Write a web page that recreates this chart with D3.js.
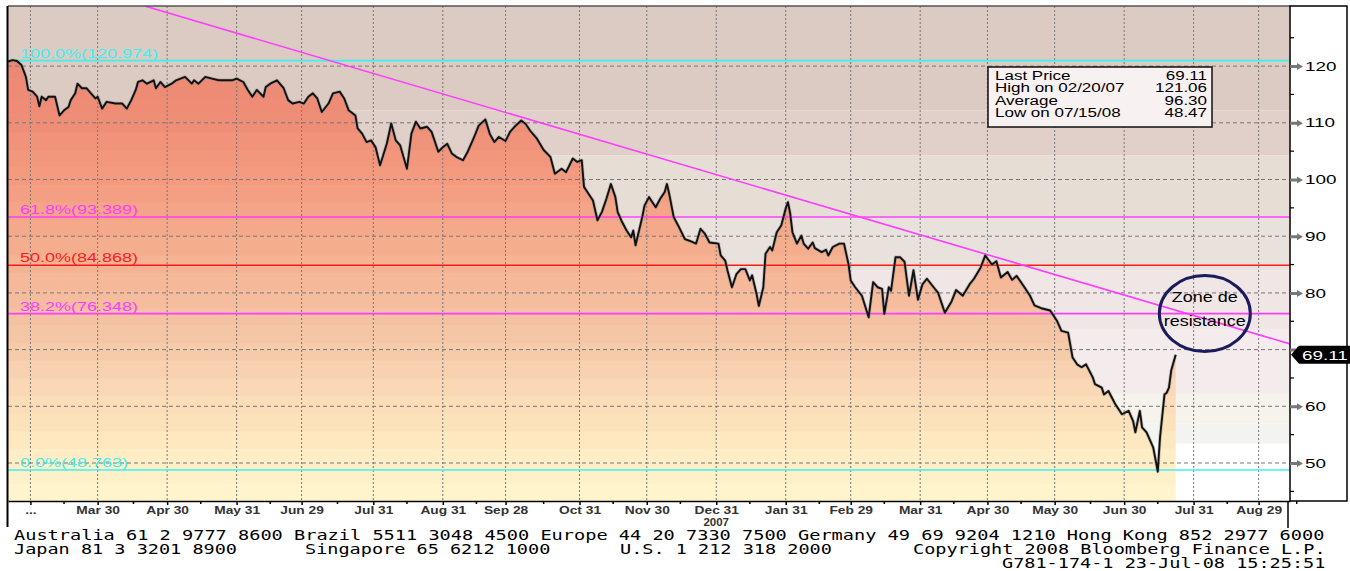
<!DOCTYPE html>
<html lang="en">
<head>
<meta charset="UTF-8">
<title>Fibonacci retracement 2007-2008</title>
<script src="https://d3js.org/d3.v7.min.js"></script>
<style>
  body { margin: 0; background: #fff; }
  svg { display: block; font-family: Arial, "Liberation Sans", sans-serif; }
</style>
</head>
<body>
<svg id="chart" width="1350" height="571"></svg>
<script>
// ---- data ----
const priceDates = [
  "2007-02-18","2007-02-20","2007-02-22","2007-02-24","2007-02-26","2007-02-27","2007-03-01","2007-03-03","2007-03-04","2007-03-05",
  "2007-03-07","2007-03-08","2007-03-11","2007-03-13","2007-03-15","2007-03-17","2007-03-18","2007-03-20","2007-03-21","2007-03-23",
  "2007-03-25","2007-03-27","2007-03-29","2007-03-30","2007-04-01","2007-04-03","2007-04-07","2007-04-10","2007-04-12","2007-04-14",
  "2007-04-16","2007-04-17","2007-04-19","2007-04-21","2007-04-24","2007-04-25","2007-04-27","2007-04-29","2007-05-02","2007-05-04",
  "2007-05-06","2007-05-08","2007-05-11","2007-05-12","2007-05-14","2007-05-17","2007-05-20","2007-05-23","2007-05-26","2007-05-29",
  "2007-05-31","2007-06-03","2007-06-05","2007-06-07","2007-06-09","2007-06-12","2007-06-13","2007-06-15","2007-06-18","2007-06-21",
  "2007-06-23","2007-06-25","2007-06-28","2007-06-30","2007-07-02","2007-07-04","2007-07-06","2007-07-08","2007-07-11","2007-07-13",
  "2007-07-16","2007-07-18","2007-07-20","2007-07-23","2007-07-24","2007-07-26","2007-07-28","2007-07-30","2007-08-01","2007-08-03",
  "2007-08-06","2007-08-08","2007-08-10","2007-08-12","2007-08-15","2007-08-17","2007-08-19","2007-08-21","2007-08-24","2007-08-26",
  "2007-08-29","2007-08-31","2007-09-02","2007-09-04","2007-09-06","2007-09-09","2007-09-11","2007-09-14","2007-09-16","2007-09-19",
  "2007-09-21","2007-09-23","2007-09-25","2007-09-28","2007-09-30","2007-10-02","2007-10-05","2007-10-07","2007-10-09","2007-10-12",
  "2007-10-15","2007-10-18","2007-10-20","2007-10-23","2007-10-25","2007-10-28","2007-10-30","2007-11-01","2007-11-02","2007-11-04",
  "2007-11-06","2007-11-08","2007-11-10","2007-11-12","2007-11-14","2007-11-16","2007-11-17","2007-11-19","2007-11-21","2007-11-23",
  "2007-11-24","2007-11-25","2007-11-28","2007-11-29","2007-12-01","2007-12-02","2007-12-04","2007-12-06","2007-12-08","2007-12-09",
  "2007-12-10","2007-12-12","2007-12-14","2007-12-17","2007-12-19","2007-12-22","2007-12-24","2007-12-26","2007-12-28","2008-01-01",
  "2008-01-02","2008-01-04","2008-01-05","2008-01-07","2008-01-09","2008-01-11","2008-01-13","2008-01-15","2008-01-16","2008-01-18",
  "2008-01-19","2008-01-21","2008-01-22","2008-01-24","2008-01-25","2008-01-27","2008-01-29","2008-01-31","2008-02-01","2008-02-02",
  "2008-02-03","2008-02-05","2008-02-07","2008-02-08","2008-02-10","2008-02-12","2008-02-13","2008-02-16","2008-02-18","2008-02-19",
  "2008-02-21","2008-02-24","2008-02-26","2008-02-28","2008-02-29","2008-03-02","2008-03-05","2008-03-08","2008-03-10","2008-03-12",
  "2008-03-14","2008-03-15","2008-03-17","2008-03-18","2008-03-20","2008-03-22","2008-03-24","2008-03-26","2008-03-28","2008-03-30",
  "2008-04-01","2008-04-03","2008-04-06","2008-04-08","2008-04-11","2008-04-14","2008-04-16","2008-04-19","2008-04-22","2008-04-24",
  "2008-04-27","2008-04-29","2008-05-02","2008-05-04","2008-05-06","2008-05-09","2008-05-11","2008-05-13","2008-05-16","2008-05-19",
  "2008-05-21","2008-05-24","2008-05-28","2008-05-31","2008-06-02","2008-06-05","2008-06-07","2008-06-09","2008-06-11","2008-06-13",
  "2008-06-16","2008-06-17","2008-06-20","2008-06-21","2008-06-23","2008-06-26","2008-06-28","2008-06-29","2008-07-02","2008-07-04",
  "2008-07-05","2008-07-07","2008-07-08","2008-07-10","2008-07-13","2008-07-15","2008-07-16","2008-07-18","2008-07-19","2008-07-20",
  "2008-07-21","2008-07-23"
];
const priceValues = [
  120.8,121.06,120.9,120.2,118.1,115.8,115.5,114.6,112.9,114.6,
  114.0,114.6,114.6,111.3,112.2,112.8,114.0,115.2,116.9,116.1,
  116.1,115.2,114.3,114.6,112.5,113.7,113.4,113.4,112.5,114.0,
  115.8,117.2,117.5,116.9,117.5,116.1,117.2,116.3,116.9,117.5,
  117.8,118.1,116.9,117.5,116.9,118.1,117.8,117.5,117.5,117.5,
  117.8,117.2,115.8,114.6,115.8,114.6,116.3,116.9,117.5,116.1,
  114.0,113.4,113.7,113.4,114.6,115.2,114.3,111.9,113.4,115.2,
  115.5,114.3,112.2,111.3,109.0,108.1,106.6,106.9,105.7,102.5,
  106.3,109.9,106.9,106.0,101.9,108.1,110.2,109.0,109.3,108.4,
  104.9,105.7,106.3,104.6,104.0,103.4,104.8,107.5,109.5,110.6,
  108.0,106.6,107.5,106.8,108.4,109.3,110.4,109.8,108.6,107.2,
  105.2,104.0,101.0,101.9,101.3,103.7,103.1,103.4,98.7,97.5,
  96.3,92.8,94.3,96.6,99.2,96.9,94.3,92.5,91.0,89.8,
  91.0,88.4,93.4,95.4,96.9,96.3,95.1,96.6,97.8,99.2,
  97.5,93.4,91.9,89.5,89.2,88.7,91.3,90.4,88.9,88.7,
  86.6,85.7,84.0,81.0,83.3,84.2,84.2,82.2,83.1,79.8,
  77.7,81.0,86.9,88.1,87.5,90.7,91.9,94.9,96.0,94.0,
  90.7,88.7,90.1,88.7,87.8,88.9,87.9,87.2,87.6,86.6,
  88.1,88.7,88.7,85.1,82.2,81.0,79.5,75.7,81.9,81.0,
  80.7,76.3,81.0,80.4,86.3,86.3,85.5,79.5,84.0,78.8,
  81.5,82.5,81.0,80.0,76.5,78.5,80.5,79.5,81.5,82.5,
  84.5,86.6,85.0,85.6,82.7,83.7,82.3,83.0,81.3,79.5,
  77.8,77.3,76.9,75.1,73.3,73.0,68.6,67.4,66.9,67.4,
  65.1,63.9,63.3,62.1,62.7,60.4,59.2,58.6,59.2,57.4,
  55.4,59.2,56.3,55.4,52.7,48.47,54.5,62.1,62.4,63.3,
  66.3,69.11
];

const fibLabels = ["100.0%(120.974)", "61.8%(93.389)", "50.0%(84.868)", "38.2%(76.348)", "0.0%(48.763)"];
const fibValues = [120.974, 93.389, 84.868, 76.348, 48.763];

const trendDates = ["2007-04-20", "2008-09-12"];
const trendValues = [130.6, 71.0];

const tickDates = ["2007-02-28","2007-03-30","2007-04-30","2007-05-31","2007-06-29","2007-07-31","2007-08-31","2007-09-28",
  "2007-10-31","2007-11-30","2007-12-31","2008-01-31","2008-02-29","2008-03-31","2008-04-30","2008-05-30","2008-06-30",
  "2008-07-31","2008-08-29"];
const tickLabels = ["...","Mar 30","Apr 30","May 31","Jun 29","Jul 31","Aug 31","Sep 28","Oct 31","Nov 30","Dec 31",
  "Jan 31","Feb 29","Mar 31","Apr 30","May 30","Jun 30","Jul 31","Aug 29"];
const yearLabel = { date: "2007-12-31", text: "2007" };

const yTicks = [50, 60, 70, 80, 90, 100, 110, 120];
const yMinorTicks = [45, 55, 65, 75, 85, 95, 105, 115, 125];

const statLabels = ["Last Price", "High on 02/20/07", "Average", "Low on 07/15/08"];
const statValues = ["69.11", "121.06", "96.30", "48.47"];
const lastPrice = 69.11;

const zoneText = ["Zone de", "resistance"];
const zoneCenter = { date: "2008-08-05", value: 76.35 };

const footerLines = [
  ["Australia 61 2 9777 8600 Brazil 5511 3048 4500 Europe 44 20 7330 7500 Germany 49 69 9204 1210 Hong Kong 852 2977 6000"],
  ["Japan 81 3 3201 8900", "Singapore 65 6212 1000", "U.S. 1 212 318 2000", "Copyright 2008 Bloomberg Finance L.P."],
  ["G781-174-1 23-Jul-08 15:25:51"]
];

// ---- layout ----
const parse = d3.timeParse("%Y-%m-%d");
const L = 8, R = 1290, T = 6, B = 501;
const svg = d3.select("#chart");

const x = d3.scaleTime().domain([parse("2007-02-18"), parse("2008-09-12")]).range([L, R]);
const y = d3.scaleLinear().domain([43.3, 130.6]).range([B, T]);

const series = priceDates.map((d, i) => ({ date: parse(d), value: priceValues[i] }));

// stretch text horizontally (the terminal font is wide)
function stretch(sel, k) {
  sel.each(function () {
    const w = this.getComputedTextLength();
    this.setAttribute("textLength", w * k);
    this.setAttribute("lengthAdjust", "spacingAndGlyphs");
  });
}

const defs = svg.append("defs");
defs.append("clipPath").attr("id", "plotClip")
  .append("rect").attr("x", L).attr("y", T).attr("width", R - L).attr("height", B - T);

const area = d3.area().x(d => x(d.date)).y0(B).y1(d => y(d.value));
defs.append("clipPath").attr("id", "areaClip")
  .append("path").attr("d", area(series));

const plot = svg.append("g").attr("clip-path", "url(#plotClip)");

// background bands (above the line / after last price)
const bgBreaks = [130.6, 112.2, 104.3, 93.5, 84, 73.5, 62.2, 57, 53.4, 43.3];
const bgColors = ["#dccbc2", "#e1cfc9", "#e6ddd5", "#e9e1db", "#efe6e5", "#f3ebec", "#f5f3ec", "#f3f3f1", "#ffffff"];
plot.selectAll("rect.bg").data(bgColors).join("rect").attr("class", "bg")
  .attr("x", L).attr("width", R - L)
  .attr("y", (c, i) => y(bgBreaks[i]))
  .attr("height", (c, i) => y(bgBreaks[i + 1]) - y(bgBreaks[i]))
  .attr("fill", c => c);

// mountain fill under the line, stepped bands
const fillColor = d3.scaleLinear()
  .domain([125, 118, 110, 105, 100, 95, 90, 85, 80, 75, 70, 65, 60, 55, 50, 45])
  .range(["#ea8672","#ec8a74","#ef8e77","#f2957b","#f49c80","#f4a386","#f4ab8b","#f5b394",
          "#f5bb9c","#f4c3a4","#f6caa9","#f9d6b3","#fbdeb8","#fde6bd","#feefc7","#fff4cc"])
  .clamp(true);
const bandEdges = d3.range(43.3, 131, 3.1);
const fillG = plot.append("g").attr("clip-path", "url(#areaClip)");
fillG.selectAll("rect").data(bandEdges).join("rect")
  .attr("x", L).attr("width", R - L)
  .attr("y", v => y(v + 3.1))
  .attr("height", v => y(v) - y(v + 3.1) + 0.5)
  .attr("fill", v => fillColor(v + 1.55));

// grid
plot.selectAll("line.hgrid").data(yTicks).join("line").attr("class", "hgrid")
  .attr("x1", L).attr("x2", R).attr("y1", d => y(d)).attr("y2", d => y(d))
  .attr("stroke", "#777").attr("stroke-width", 1).attr("stroke-dasharray", "4,3");
plot.selectAll("line.vgrid").data(tickDates).join("line").attr("class", "vgrid")
  .attr("x1", d => x(parse(d))).attr("x2", d => x(parse(d))).attr("y1", T).attr("y2", B)
  .attr("stroke", "#777").attr("stroke-width", 1).attr("stroke-dasharray", "2,2");

// fibonacci levels
const fibColors = ["#3ef0f0", "#ff3cff", "#ff1a1a", "#ff3cff", "#3ef0f0"];
plot.selectAll("line.fib").data(fibValues).join("line").attr("class", "fib")
  .attr("x1", L).attr("x2", R).attr("y1", d => y(d)).attr("y2", d => y(d))
  .attr("stroke", (d, i) => fibColors[i]).attr("stroke-width", 1.6);

// trend line
const trend = trendDates.map((d, i) => ({ date: parse(d), value: trendValues[i] }));
plot.append("path").datum(trend)
  .attr("d", d3.line().x(d => x(d.date)).y(d => y(d.value)))
  .attr("stroke", "#ff3cff").attr("stroke-width", 1.6).attr("fill", "none");

// price line
const line = d3.line().x(d => x(d.date)).y(d => y(d.value));
plot.append("path").datum(series).attr("d", line)
  .attr("fill", "none").attr("stroke", "#888").attr("stroke-width", 3.4).attr("opacity", 0.45)
  .attr("stroke-linejoin", "round");
plot.append("path").datum(series).attr("d", line)
  .attr("fill", "none").attr("stroke", "#111").attr("stroke-width", 1.9)
  .attr("stroke-linejoin", "round");

// fib labels
svg.selectAll("text.fibLabel").data(fibValues).join("text").attr("class", "fibLabel")
  .attr("x", 20).attr("y", d => y(d) - 3)
  .attr("font-size", 12).attr("fill", (d, i) => fibColors[i])
  .text((d, i) => fibLabels[i])
  .call(stretch, 1.5);

// frame
svg.append("line").attr("x1", L).attr("x2", R).attr("y1", T).attr("y2", T)
  .attr("stroke", "#555").attr("stroke-width", 1.5);
svg.append("line").attr("x1", L - 0.5).attr("x2", L - 0.5).attr("y1", T).attr("y2", 527)
  .attr("stroke", "#000").attr("stroke-width", 2);
svg.append("line").attr("x1", R - 2).attr("x2", R - 2).attr("y1", B).attr("y2", 528)
  .attr("stroke", "#000").attr("stroke-width", 1.5);

// x axis
const xAxis = svg.append("g").attr("transform", `translate(0,${B})`)
  .call(d3.axisBottom(x).tickValues(tickDates.map(parse))
    .tickFormat((d, i) => tickLabels[i]).tickSize(4).tickSizeOuter(0));
xAxis.select(".domain").attr("stroke", "#000").attr("stroke-width", 1.5);
xAxis.selectAll(".tick line").attr("stroke", "#000").attr("stroke-width", 1.5);
xAxis.selectAll(".tick text").attr("y", 13).attr("dy", null)
  .attr("font-size", 11).attr("font-weight", "bold").attr("fill", "#333")
  .call(stretch, 1.25);
const midMonths = d3.timeMonths(x.domain()[0], x.domain()[1]).map(d => d3.timeDay.offset(d, 14));
xAxis.selectAll("line.minor").data(midMonths).join("line").attr("class", "minor")
  .attr("x1", d => x(d)).attr("x2", d => x(d)).attr("y1", 0).attr("y2", 3)
  .attr("stroke", "#000").attr("stroke-width", 1.5);
svg.append("text").attr("x", x(parse(yearLabel.date))).attr("y", 526)
  .attr("text-anchor", "middle").attr("font-size", 10).attr("font-weight", "bold").attr("fill", "#333")
  .text(yearLabel.text).call(stretch, 1.15);

// right axis (the 70 label sits under the last-price tag, so it is left blank)
svg.append("rect").attr("x", R).attr("y", T).attr("width", 57).attr("height", B - T)
  .attr("fill", "#fff").attr("stroke", "#000").attr("stroke-width", 1.5);
const yAxis = svg.append("g").attr("transform", `translate(${R},0)`)
  .call(d3.axisRight(y).tickValues(yTicks).tickSize(0).tickPadding(15)
    .tickFormat(d => Math.abs(d - lastPrice) < 3 ? "" : d));
yAxis.select(".domain").remove();
yAxis.selectAll(".tick text").attr("font-size", 13).attr("fill", "#000").call(stretch, 1.45);
yAxis.selectAll(".tick").append("path")
  .attr("d", "M0,-1.5L7,-1.5L7,-3.5L13,0L7,3.5L7,1.5L0,1.5Z").attr("fill", "#777");
yAxis.selectAll("line.minor").data(yMinorTicks).join("line").attr("class", "minor")
  .attr("x1", 0).attr("x2", 4).attr("y1", d => y(d)).attr("y2", d => y(d))
  .attr("stroke", "#000").attr("stroke-width", 1.2);

// last price tag
const ly = y(lastPrice);
svg.append("path")
  .attr("d", `M${R + 1},${ly} L${R + 9},${ly - 9} L1360,${ly - 9} L1360,${ly + 9} L${R + 9},${ly + 9} Z`)
  .attr("fill", "#000");
svg.append("text").attr("x", R + 12).attr("y", ly + 5)
  .attr("font-size", 13).attr("fill", "#fff").text(lastPrice.toFixed(2)).call(stretch, 1.45);

// stats box: wide text via a horizontal scale transform
const statK = 1.36, rowH = 12.3;
const box = svg.append("g");
box.append("rect").attr("x", 988).attr("y", 67).attr("width", 224).attr("height", 60)
  .attr("fill", "#f8f1f1").attr("stroke", "#111").attr("stroke-width", 1.5);
box.selectAll("text.lab").data(statLabels).join("text").attr("class", "lab")
  .attr("transform", (d, i) => `translate(995,${80 + i * rowH}) scale(${statK},1)`)
  .attr("font-size", 12.5).attr("fill", "#000").text(d => d);
box.selectAll("text.val").data(statValues).join("text").attr("class", "val")
  .attr("transform", (d, i) => `translate(1207,${80 + i * rowH}) scale(${statK},1)`)
  .attr("text-anchor", "end")
  .attr("font-size", 12.5).attr("fill", "#000").text(d => d);

// resistance zone annotation
const zx = x(parse(zoneCenter.date)), zy = y(zoneCenter.value);
svg.append("ellipse").attr("cx", zx).attr("cy", zy).attr("rx", 45.5).attr("ry", 38)
  .attr("fill", "none").attr("stroke", "#1c1c5c").attr("stroke-width", 3);
svg.selectAll("text.zone").data(zoneText).join("text").attr("class", "zone")
  .attr("x", zx).attr("y", (d, i) => zy - 11.5 + i * 23.5).attr("text-anchor", "middle")
  .attr("font-size", 15).attr("fill", "#000").text(d => d).call(stretch, 1.2);

// footer
const charW = [11.2, 11.15, 11.15];
const footerPos = [[14], [14, 305, 620, 913], [1002]];
const footerBase = [540, 553.5, 567.5];
footerLines.forEach((row, r) => {
  row.forEach((txt, j) => {
    svg.append("text").attr("x", footerPos[r][j]).attr("y", footerBase[r])
      .attr("font-family", "'DejaVu Sans Mono', monospace").attr("font-size", 14).attr("fill", "#000")
      .attr("textLength", txt.length * charW[r]).attr("lengthAdjust", "spacingAndGlyphs")
      .text(txt);
  });
});
</script>
</body>
</html>
